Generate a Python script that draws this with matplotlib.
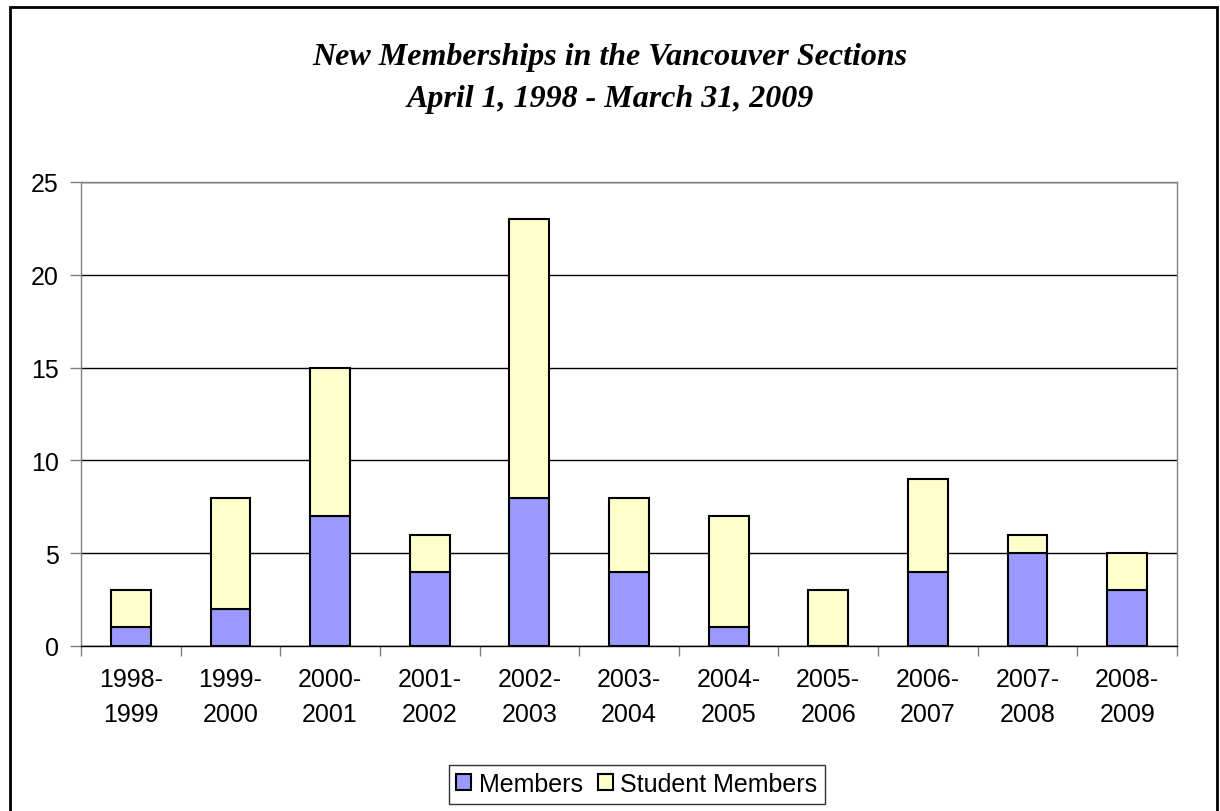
import numpy as np
import matplotlib.pyplot as plt
from matplotlib.patches import Rectangle

# Datos
years = ['1998-\n1999', '1999-\n2000', '2000-\n2001', '2001-\n2002', '2002-\n2003',
         '2003-\n2004', '2004-\n2005', '2005-\n2006', '2006-\n2007', '2007-\n2008',
         '2008-\n2009']
members = [1, 2, 7, 4, 8, 4, 1, 0, 4, 5, 3]
students = [2, 6, 8, 2, 15, 4, 6, 3, 5, 1, 2]

W, H = 1220, 812
fig = plt.figure(figsize=(W / 100, H / 100), dpi=100)
fig.patch.set_facecolor('white')

# borde exterior del grafico
fig.patches.append(Rectangle((10 / W, -0.01), 1207 / W, 1 - 8 / H + 0.01,
                             transform=fig.transFigure, fill=False,
                             edgecolor='black', linewidth=2))

ax = fig.add_axes([81 / W, 1 - 647 / H, (1177 - 81) / W, (647 - 183) / H])

x = np.arange(len(years))
ax.bar(x, members, width=0.4, color='#9999ff', edgecolor='black', linewidth=1.5,
       label='Members', zorder=3)
ax.bar(x, students, width=0.4, bottom=members, color='#ffffcc', edgecolor='black',
       linewidth=1.5, label='Student Members', zorder=3)

ax.set_xlim(-0.5, len(years) - 0.5)
ax.set_ylim(0, 25)
ax.set_yticks(range(0, 26, 5))
ax.yaxis.grid(True, color='black', linewidth=1)
ax.set_axisbelow(True)

ax.set_xticks(x)
ax.set_xticklabels(years, fontsize=18, family='Liberation Sans', linespacing=1.6)
ax.set_xticks(np.arange(-0.5, len(years), 1), minor=True)
ax.tick_params(axis='x', which='major', length=0, pad=15)
ax.tick_params(axis='x', which='minor', length=7, width=1, color='gray')
ax.tick_params(axis='y', length=8, width=1, color='gray', labelsize=18, pad=8)
for t in ax.get_yticklabels():
    t.set_family('Liberation Sans')

for s in ax.spines.values():
    s.set_color('gray')
    s.set_linewidth(1)
ax.spines['bottom'].set_color('black')

fig.text(0.5, 1 - 58 / H, 'New Memberships in the Vancouver Sections',
         ha='center', va='center', fontsize=23, family='Liberation Serif',
         style='italic', weight='bold')
fig.text(0.5, 1 - 100 / H, 'April 1, 1998 - March 31, 2009',
         ha='center', va='center', fontsize=23, family='Liberation Serif',
         style='italic', weight='bold')

leg = fig.legend(loc='center', bbox_to_anchor=(637 / W, 1 - 785 / H), ncol=2,
                 frameon=True, fancybox=False, edgecolor='black',
                 prop={'family': 'Liberation Sans', 'size': 18},
                 handlelength=0.6, handleheight=0.6, handletextpad=0.3,
                 columnspacing=0.6, borderpad=0.3)
leg.get_frame().set_linewidth(1)

fig.savefig('out.png', dpi=100)
